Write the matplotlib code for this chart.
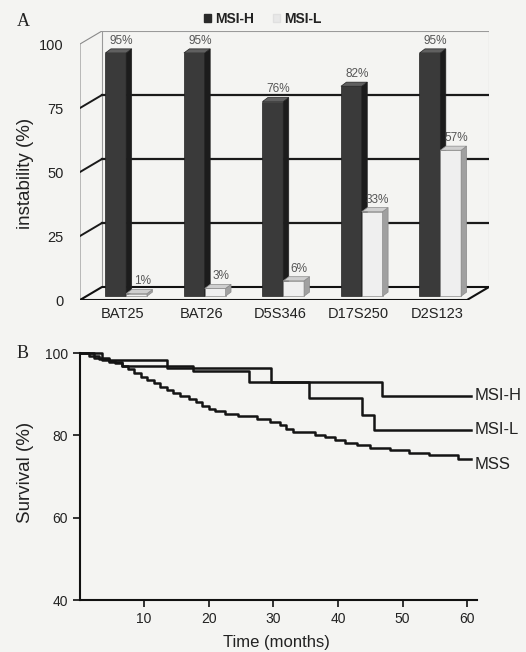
import numpy as np
import matplotlib.pyplot as plt
from matplotlib.patches import Polygon, Patch

plt.rcParams['font.family'] = ['Liberation Sans', 'DejaVu Sans']

# panel A: microsatellite instability per marker
markers = ['BAT25', 'BAT26', 'D5S346', 'D17S250', 'D2S123']
msi_h = [95, 95, 76, 82, 95]
msi_l = [1, 3, 6, 33, 57]

# panel B: Kaplan-Meier steps (months, survival %)
h_t = [0, 3.5, 13.6, 29.6, 46.8, 60.5]
h_s = [100, 98.3, 96.3, 93, 89.5, 89.5]
l_t = [0, 2.3, 4.5, 6.6, 17.5, 26.2, 35.5, 43.7, 45.5, 60.5]
l_s = [100, 98.8, 97.8, 96.8, 95.6, 93, 89, 85, 81.2, 81.2]
mss_t = [0, 1.5, 3, 4.5, 5.5, 6.5, 7.5, 8.5, 9.5, 10.5,
         11.5, 12.5, 13.5, 14.5, 15.5, 17, 18, 19, 20, 21,
         22.5, 24.5, 27.5, 29.5, 31, 32, 33, 36.5, 38, 39.5,
         41, 43, 45, 48, 51, 54, 58.5, 60.5]
mss_s = [100, 99.2, 98.6, 98, 97.5, 96.9, 96, 95.1, 94.2, 93.4,
         92.6, 91.8, 91, 90.2, 89.6, 88.8, 88, 87.2, 86.4, 85.8,
         85.2, 84.6, 84, 83.2, 82.4, 81.6, 80.8, 80.2, 79.5, 78.8,
         78.2, 77.6, 77, 76.4, 75.8, 75.2, 74.2, 74.2]

W, H = 526, 652
bg = '#f4f4f2'
fig = plt.figure(figsize=(W / 100, H / 100), dpi=100, facecolor=bg)


def px_axes(l, t, r, b):
    return fig.add_axes([l / W, 1 - b / H, (r - l) / W, (b - t) / H])


# ---------- panel A (fake 3D columns) ----------
axA = px_axes(80, 31, 489, 300)
axA.patch.set_alpha(0)
x0, x1 = -0.548, 4.38      # front floor edge
ddx, ddy = 0.28, 5.08      # depth of the box
axA.set_xlim(x0, x1 + ddx)
axA.set_ylim(0, 100 + ddy)
for s in axA.spines.values():
    s.set_visible(False)

# walls
axA.plot([x0 + ddx, x0 + ddx, x1 + ddx, x1 + ddx], [ddy, 100 + ddy, 100 + ddy, ddy],
         color='#9a9a9a', lw=0.8)
axA.plot([x0, x0, x0 + ddx], [0, 100, 100 + ddy], color='#8a8a8a', lw=0.8)
for v in [25, 50, 75]:
    axA.plot([x0 + ddx, x1 + ddx], [v + ddy, v + ddy], color='#1a1a1a', lw=1.6)
    axA.plot([x0, x0 + ddx], [v, v + ddy], color='#1a1a1a', lw=1.4)
axA.plot([x0, x1, x1 + ddx, x0 + ddx, x0], [0, 0, ddy, ddy, 0], color='#111111', lw=1.5)

pos = np.arange(len(markers))
bw, base = 0.265, 1.5
bdx, bdy = 0.07, 1.6


def bar3d(lefts, vals, front, side, top, edge, z):
    axA.bar(lefts, vals, bw, bottom=base, align='edge', color=front,
            edgecolor=edge, lw=0.5, zorder=z)
    for xl, v in zip(lefts, vals):
        xr = xl + bw
        yt = base + v
        axA.add_patch(Polygon([(xr, base), (xr + bdx, base + bdy), (xr + bdx, yt + bdy), (xr, yt)],
                              fc=side, ec=edge, lw=0.5, zorder=z))
        axA.add_patch(Polygon([(xl, yt), (xl + bdx, yt + bdy), (xr + bdx, yt + bdy), (xr, yt)],
                              fc=top, ec=edge, lw=0.5, zorder=z))
        axA.text(xl + bw / 2 + bdx, yt + bdy + 0.8, f'{v}%', ha='center', va='bottom',
                 fontsize=8.5, color='#555555', zorder=6)


bar3d(pos - 0.225, msi_h, '#3a3a3a', '#1c1c1c', '#606060', '#222222', 3)
bar3d(pos + 0.04, msi_l, '#efefef', '#a0a0a0', '#cfcfcf', '#8a8a8a', 4)

axA.set_xticks(pos)
axA.set_xticklabels(markers)
axA.set_yticks([0, 25, 50, 75, 100])
axA.tick_params(length=0, labelsize=10.5, colors='#222222')
axA.tick_params(axis='x', pad=5)
axA.tick_params(axis='y', pad=12)

fig.legend(handles=[Patch(fc='#2a2a2a', ec='#2a2a2a'), Patch(fc='#e8e8e8', ec='#e0e0e0')],
           labels=['MSI-H', 'MSI-L'], loc='center', bbox_to_anchor=(263 / W, 1 - 19 / H),
           ncol=2, frameon=False, handlelength=0.5, handleheight=0.5, handletextpad=0.3,
           columnspacing=1.4, prop={'size': 10, 'weight': 'bold'}, labelcolor='#222222')

fig.text(17 / W, 1 - 21 / H, 'A', family='Liberation Serif', fontsize=13, va='center', color='#222222')
fig.text(26 / W, 1 - 173 / H, 'instability (%)', rotation=90, fontsize=13.5,
         ha='center', va='center', color='#222222')

# ---------- panel B (survival curves) ----------
axB = px_axes(79.5, 353, 477, 600)
axB.patch.set_alpha(0)
axB.set_xlim(0, 61.5)
axB.set_ylim(40, 100)
axB.spines[['top', 'right']].set_visible(False)
for s in ['left', 'bottom']:
    axB.spines[s].set_linewidth(1.5)
    axB.spines[s].set_color('#111111')
axB.set_xticks([10, 20, 30, 40, 50, 60])
axB.set_yticks([40, 60, 80, 100])
axB.tick_params(direction='out', length=5, width=1.3, labelsize=10, colors='#222222')

for t, s in [(h_t, h_s), (l_t, l_s), (mss_t, mss_s)]:
    axB.step(t, s, where='post', color='#141414', lw=1.8, clip_on=False)

axB.text(61.2, 89.7, 'MSI-H', fontsize=12, va='center', clip_on=False, color='#222222')
axB.text(61.2, 81.3, 'MSI-L', fontsize=12, va='center', clip_on=False, color='#222222')
axB.text(61.2, 72.8, 'MSS', fontsize=12, va='center', clip_on=False, color='#222222')

fig.text(17 / W, 1 - 353 / H, 'B', family='Liberation Serif', fontsize=13, va='center', color='#222222')
fig.text(25 / W, 1 - 472 / H, 'Survival (%)', rotation=90, fontsize=13.5,
         ha='center', va='center', color='#222222')
fig.text(276 / W, 1 - 643 / H, 'Time (months)', fontsize=12, ha='center', va='center',
         color='#222222')

fig.savefig('out.png', dpi=100, facecolor=bg)
